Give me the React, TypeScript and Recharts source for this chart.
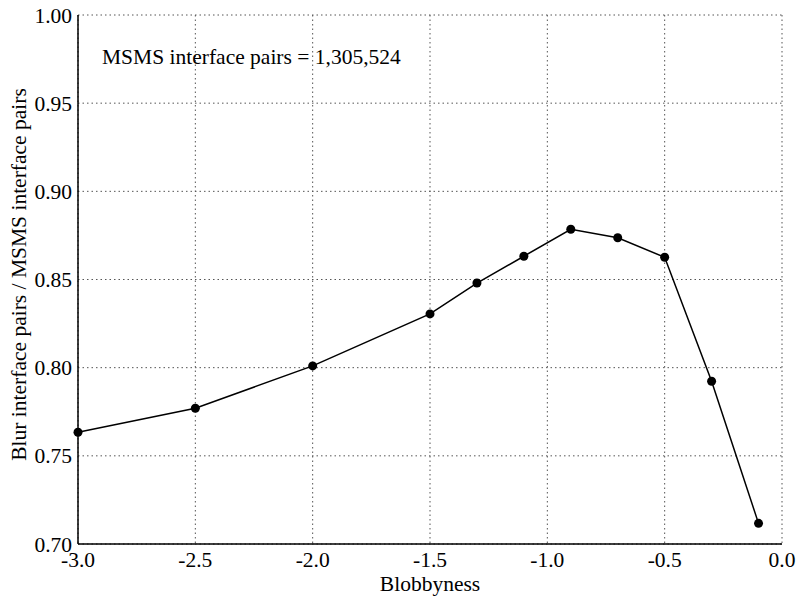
import { LineChart, Line, XAxis, YAxis, CartesianGrid } from 'recharts'

const blobbyness = [-3.0, -2.5, -2.0, -1.5, -1.3, -1.1, -0.9, -0.7, -0.5, -0.3, -0.1]
const pairRatio = [0.7634, 0.777, 0.801, 0.8305, 0.848, 0.8632, 0.8785, 0.8737, 0.8626, 0.7923, 0.7117]
const xTicks = [-3.0, -2.5, -2.0, -1.5, -1.0, -0.5, 0.0]
const yTicks = [0.7, 0.75, 0.8, 0.85, 0.9, 0.95, 1.0]

const FONT = '"Liberation Serif", "Times New Roman", serif'
const FS = 21.5

const data = blobbyness.map((b, i) => ({ b, r: pairRatio[i] }))

const XTick = ({ x, y, payload }: any) => (
  <text x={x} y={y} dy="0.71em" textAnchor="middle" fill="#000" fontSize={FS} fontFamily={FONT}>
    {Number(payload.value).toFixed(1)}
  </text>
)

const YTick = ({ x, y, payload }: any) => (
  <text x={x} y={y} dy="0.355em" textAnchor="end" fill="#000" fontSize={FS} fontFamily={FONT}>
    {Number(payload.value).toFixed(2)}
  </text>
)

export default function App() {
  return (
    <div style={{ position: 'relative', width: 800, height: 597, background: '#fff', fontFamily: FONT }}>
      <style>{'body{margin:0}'}</style>
      <LineChart width={800} height={597} data={data} margin={{ top: 15, right: 18, left: 0, bottom: 0 }}>
        <CartesianGrid stroke="#555" strokeDasharray="1.5 3" />
        <XAxis
          dataKey="b"
          type="number"
          domain={[-3, 0]}
          ticks={xTicks}
          tick={<XTick />}
          tickLine={false}
          tickSize={6}
          tickMargin={2}
          axisLine={{ stroke: '#000', strokeWidth: 1.5 }}
          height={53}
          label={{ value: 'Blobbyness', position: 'insideBottom', offset: 6, fill: '#000', fontSize: FS, fontFamily: FONT }}
        />
        <XAxis xAxisId="top" orientation="top" dataKey="b" type="number" domain={[-3, 0]} tick={false} tickLine={false} height={0} axisLine={{ stroke: '#000', strokeWidth: 1.5 }} />
        <YAxis
          type="number"
          domain={[0.7, 1.0]}
          ticks={yTicks}
          tick={<YTick />}
          tickLine={false}
          tickSize={6}
          tickMargin={0}
          axisLine={{ stroke: '#000', strokeWidth: 1.5 }}
          width={78}
          label={{ value: 'Blur interface pairs / MSMS interface pairs', angle: -90, position: 'insideLeft', offset: 18, dy: -5, style: { textAnchor: 'middle' }, fill: '#000', fontSize: FS, fontFamily: FONT }}
        />
        <YAxis yAxisId="right" orientation="right" domain={[0.7, 1.0]} tick={false} tickLine={false} width={0} axisLine={{ stroke: '#000', strokeWidth: 1.5 }} />
        <Line
          dataKey="r"
          stroke="#000"
          strokeWidth={1.5}
          dot={{ r: 4.5, fill: '#000', stroke: '#000', strokeWidth: 0 }}
          activeDot={false}
          isAnimationActive={false}
        />
      </LineChart>
      <div style={{ position: 'absolute', left: 102, top: 45, fontFamily: FONT, fontSize: FS, color: '#000', whiteSpace: 'nowrap' }}>
        MSMS interface pairs = 1,305,524
      </div>
    </div>
  )
}
